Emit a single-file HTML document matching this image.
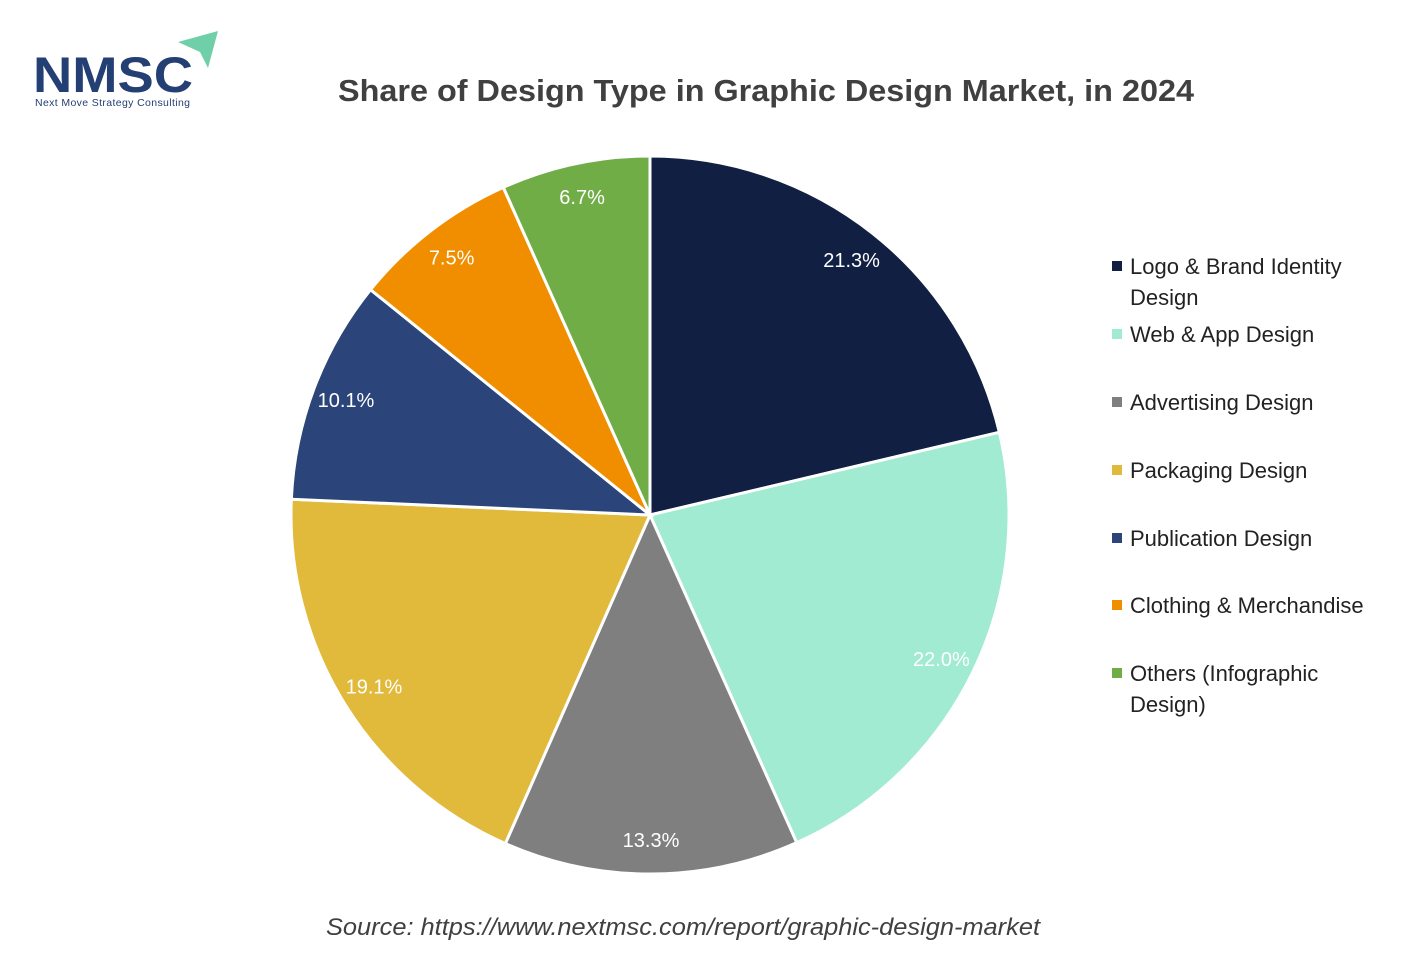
<!DOCTYPE html>
<html><head><meta charset="utf-8"><style>
body{margin:0;background:#fff;width:1427px;height:959px;overflow:hidden;font-family:"Liberation Sans",sans-serif}
svg{display:block}
</style></head><body>
<svg width="1427" height="959">
<g>
<text x="33" y="92" font-size="50" font-weight="bold" fill="#233f73" textLength="160" lengthAdjust="spacingAndGlyphs">NMSC</text>
<polygon points="178,42 218,31 208,68 200,52" fill="#6fcfa9"/>
<text x="35" y="106" font-size="10.5" fill="#233f73" textLength="155">Next Move Strategy Consulting</text>
</g>
<text x="338" y="101" font-size="31" font-weight="bold" fill="#404040" textLength="856" lengthAdjust="spacingAndGlyphs">Share of Design Type in Graphic Design Market, in 2024</text>
<g id="slices"></g>
<g id="labels"></g>
<g id="legend"></g>
<text x="326" y="935" font-size="24" font-style="italic" fill="#404040" textLength="714" lengthAdjust="spacingAndGlyphs">Source: https://www.nextmsc.com/report/graphic-design-market</text>
</svg>
<script>
const categories=["Logo & Brand Identity Design","Web & App Design","Advertising Design","Packaging Design","Publication Design","Clothing & Merchandise","Others (Infographic Design)"];
const values=[21.3,22.0,13.3,19.1,10.1,7.5,6.7];
const legendLines=[["Logo & Brand Identity","Design"],["Web & App Design"],["Advertising Design"],["Packaging Design"],["Publication Design"],["Clothing & Merchandise"],["Others (Infographic","Design)"]];
const colors=["#101f42","#a0ebd2","#7f7f7f","#e1b93b","#2b457a","#f08e00","#70ad47"];
const cx=650,cy=515,r=359,lr=325;
const ns="http://www.w3.org/2000/svg";
const total=values.reduce((a,b)=>a+b,0);
const pt=(a,rad)=>[cx+rad*Math.sin(a),cy-rad*Math.cos(a)];
let acc=0;
const sg=document.getElementById('slices'),lg=document.getElementById('labels'),leg=document.getElementById('legend');
values.forEach((v,i)=>{
 const a0=acc/total*2*Math.PI;acc+=v;const a1=acc/total*2*Math.PI;
 const p0=pt(a0,r),p1=pt(a1,r);
 const p=document.createElementNS(ns,'path');
 p.setAttribute('d',`M${cx},${cy}L${p0[0]},${p0[1]}A${r},${r} 0 ${a1-a0>Math.PI?1:0} 1 ${p1[0]},${p1[1]}Z`);
 p.setAttribute('fill',colors[i]);p.setAttribute('stroke','#fff');p.setAttribute('stroke-width','3');
 
 
 sg.appendChild(p);
 const m=pt((a0+a1)/2,lr);
 const t=document.createElementNS(ns,'text');
 t.setAttribute('x',m[0]);t.setAttribute('y',m[1]+7);t.setAttribute('text-anchor','middle');
 t.setAttribute('font-size','20');t.setAttribute('fill','#fff');
 t.textContent=v.toFixed(1)+'%';
 
 
 lg.appendChild(t);
});
const rowY=[267,335,403,471,539,606,674];
categories.forEach((c,i)=>{
 const g=document.createElementNS(ns,'g');
 
 
 const s=document.createElementNS(ns,'rect');
 s.setAttribute('x',1112);s.setAttribute('y',rowY[i]-6);s.setAttribute('width',10);s.setAttribute('height',10);s.setAttribute('fill',colors[i]);
 g.appendChild(s);
 legendLines[i].forEach((ln,j)=>{
  const t=document.createElementNS(ns,'text');
  t.setAttribute('x',1130);t.setAttribute('y',rowY[i]+7+j*31);t.setAttribute('font-size','22');t.setAttribute('fill','#222');
  t.textContent=ln;g.appendChild(t);
 });
 leg.appendChild(g);
});
</script>
</body></html>
